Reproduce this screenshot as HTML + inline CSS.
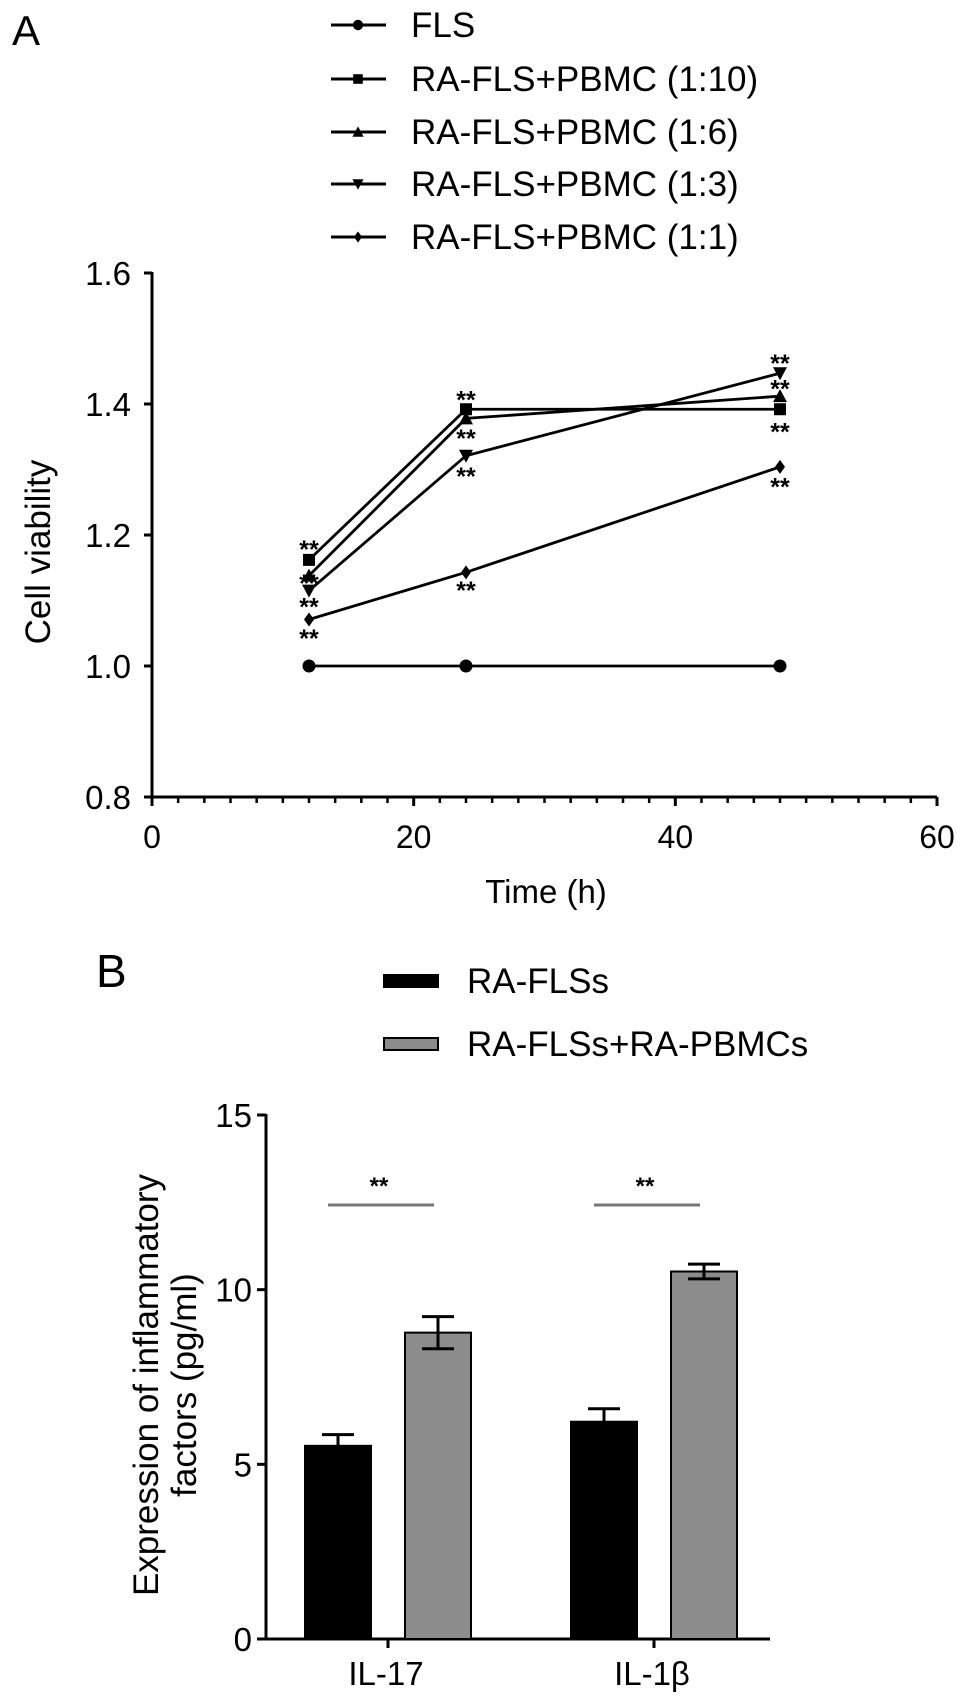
<!DOCTYPE html>
<html><head><meta charset="utf-8"><style>
html,body{margin:0;padding:0;background:#fff;}
svg{display:block;font-family:"Liberation Sans",sans-serif;}
</style></head><body>
<svg id="fig" width="969" height="1704" viewBox="0 0 969 1704" xmlns="http://www.w3.org/2000/svg">
<text x="12" y="45" font-size="42">A</text>
<text x="96" y="987" font-size="46">B</text>
<g id="legendA"></g>
<g id="chartA"></g>
<g id="legendB"></g>
<g id="chartB"></g>
</svg>
<script>
// ---- Panel A data ----
const timesA = [12, 24, 48];
const seriesNamesA = ["FLS","RA-FLS+PBMC (1:10)","RA-FLS+PBMC (1:6)","RA-FLS+PBMC (1:3)","RA-FLS+PBMC (1:1)"];
const seriesMarkersA = ["circle","square","triangle","down","diamond"];
const flsValues = [1.0, 1.0, 1.0];
const ratio110Values = [1.162, 1.392, 1.392];
const ratio16Values = [1.138, 1.378, 1.412];
const ratio13Values = [1.115, 1.321, 1.447];
const ratio11Values = [1.071, 1.143, 1.304];
const yTicksA = [0.8, 1.0, 1.2, 1.4, 1.6];
const yTickLabelsA = ["0.8","1.0","1.2","1.4","1.6"];
const xTicksA = [0, 20, 40, 60];
// star annotation positions (time, value)
const starTimesA = [12,12,12,12,24,24,24,24,48,48,48,48];
const starValuesA = [1.185,1.133,1.097,1.049,1.413,1.354,1.296,1.122,1.469,1.43,1.364,1.28];

// ---- Panel B data ----
const categoriesB = ["IL-17","IL-1β"];
const groupNamesB = ["RA-FLSs","RA-FLSs+RA-PBMCs"];
const raFlsValues = [5.53, 6.22];
const raFlsErr = [0.32, 0.37];
const coValues = [8.77, 10.52];
const coErr = [0.46, 0.21];
const yTicksB = [0, 5, 10, 15];

const NS="http://www.w3.org/2000/svg";
function mk(tag, attrs, parent){const e=document.createElementNS(NS,tag);for(const k in attrs)e.setAttribute(k,attrs[k]);parent.appendChild(e);return e;}

const xA = t => 152 + (t-0)*(937-152)/60;
const yA = v => 797 - (v-0.8)*(797-273)/0.8;

const gA = document.getElementById('chartA');
let ax = mk('line',{x1:152,y1:797,x2:937,y2:797,stroke:'#000','stroke-width':3},gA);


ax = mk('line',{x1:152,y1:797,x2:152,y2:272,stroke:'#000','stroke-width':3},gA);


for(let t=0;t<=60;t+=2){
  const major = xTicksA.includes(t);
  const tk = mk('line',{x1:xA(t),y1:797,x2:xA(t),y2:797+(major?9:6),stroke:'#000','stroke-width':major?3:2.5},gA);
  
  
}
xTicksA.forEach(t=>{
  const tx = mk('text',{x:xA(t),y:848,'font-size':32,'text-anchor':'middle'},gA);
  tx.textContent=String(t);
  
  
});
yTicksA.forEach((v,i)=>{
  const tk = mk('line',{x1:144,y1:yA(v),x2:152,y2:yA(v),stroke:'#000','stroke-width':3},gA);
  
  
  const tx = mk('text',{x:131,y:yA(v)+12,'font-size':33,'text-anchor':'end'},gA);
  tx.textContent=yTickLabelsA[i];
  
  
});
let t1 = mk('text',{x:546,y:903,'font-size':33,'text-anchor':'middle'},gA);
t1.textContent='Time (h)';


t1 = mk('text',{x:0,y:0,'font-size':35,'text-anchor':'middle',transform:'translate(50,552) rotate(-90)'},gA);
t1.textContent='Cell viability';



function marker(type,cx,cy,parent,s){
  s = s || 1;
  let e;
  if(type==='circle') e=mk('circle',{cx,cy,r:6.5*s,fill:'#000'},parent);
  else if(type==='square') e=mk('rect',{x:cx-6*s,y:cy-6*s,width:12*s,height:12*s,fill:'#000'},parent);
  else if(type==='triangle') e=mk('polygon',{points:`${cx},${cy-7*s} ${cx-7*s},${cy+6*s} ${cx+7*s},${cy+6*s}`,fill:'#000'},parent);
  else if(type==='down') e=mk('polygon',{points:`${cx},${cy+7*s} ${cx-7*s},${cy-6*s} ${cx+7*s},${cy-6*s}`,fill:'#000'},parent);
  else e=mk('polygon',{points:`${cx},${cy-7*s} ${cx-5*s},${cy} ${cx},${cy+7*s} ${cx+5*s},${cy}`,fill:'#000'},parent);
  return e;
}
const allSeries=[flsValues,ratio110Values,ratio16Values,ratio13Values,ratio11Values];
allSeries.forEach((vals,si)=>{
  const g = mk('g',{},gA);
  
  
  const pts = vals.map((v,i)=>xA(timesA[i])+','+yA(v)).join(' ');
  const pl = mk('polyline',{points:pts,fill:'none',stroke:'#000','stroke-width':2.8},g);
  
  
  vals.forEach((v,i)=>{
    const m = marker(seriesMarkersA[si],xA(timesA[i]),yA(v),g);
    
    
  });
});
starTimesA.forEach((t,i)=>{
  const s = mk('text',{x:xA(t),y:yA(starValuesA[i])+13,'font-size':25,'font-weight':'bold','text-anchor':'middle'},gA);
  s.textContent='**';
  
  
});

const lgA = document.getElementById('legendA');
const legYA=[25,79,132,184,237];
seriesNamesA.forEach((n,i)=>{
  const g = mk('g',{},lgA);
  
  
  mk('line',{x1:331,y1:legYA[i],x2:386,y2:legYA[i],stroke:'#000','stroke-width':3},g);
  marker(seriesMarkersA[i],358,legYA[i],g,0.8);
  const tx = mk('text',{x:411,y:legYA[i]+12,'font-size':35},g);
  tx.textContent=n;
});

// ---- Panel B ----
const yB = v => 1639 - v*(1639-1115)/15;
const catCenters=[388,654];
const xB = (ci,gi) => catCenters[ci] + (gi===0?-50:50);
const gB = document.getElementById('chartB');
ax = mk('line',{x1:266,y1:1639,x2:770,y2:1639,stroke:'#000','stroke-width':3},gB);


ax = mk('line',{x1:266,y1:1639,x2:266,y2:1114,stroke:'#000','stroke-width':3},gB);


yTicksB.forEach(v=>{
  const tk = mk('line',{x1:257,y1:yB(v),x2:266,y2:yB(v),stroke:'#000','stroke-width':3},gB);
  
  
  const tx = mk('text',{x:252,y:yB(v)+12,'font-size':33,'text-anchor':'end'},gB);
  tx.textContent=String(v);
  
  
});
categoriesB.forEach((c,ci)=>{
  const tk = mk('line',{x1:catCenters[ci],y1:1639,x2:catCenters[ci],y2:1648,stroke:'#000','stroke-width':3},gB);
  
  
  const tx = mk('text',{x:catCenters[ci]-2,y:1685,'font-size':33,'text-anchor':'middle'},gB);
  tx.textContent=c;
  
  
});
const groups=[[raFlsValues,raFlsErr,'#000'],[coValues,coErr,'#8c8c8c']];
groups.forEach((gr,gi)=>{
  gr[0].forEach((v,ci)=>{
    const cx = xB(ci,gi);
    const b = mk('rect',{x:cx-33,y:yB(v),width:66,height:1639-yB(v),fill:gr[2],stroke:'#000','stroke-width':2},gB);
    
    
    const e = gr[1][ci];
    const eg = mk('g',{stroke:'#000','stroke-width':3},gB);
    
    
    const lo = gi===0 ? v : v-e;
    mk('line',{x1:cx,y1:yB(v+e),x2:cx,y2:yB(lo)},eg);
    mk('line',{x1:cx-16,y1:yB(v+e),x2:cx+16,y2:yB(v+e)},eg);
    if(gi===1) mk('line',{x1:cx-16,y1:yB(v-e),x2:cx+16,y2:yB(v-e)},eg);
  });
});
catCenters.forEach((c,ci)=>{
  const l = mk('line',{x1:c-60,y1:1205,x2:c+46,y2:1205,stroke:'#777','stroke-width':3},gB);
  
  
  const s = mk('text',{x:c-9,y:1194,'font-size':24,'font-weight':'bold','text-anchor':'middle'},gB);
  s.textContent='**';
  
  
});
t1 = mk('text',{x:0,y:0,'font-size':35,'text-anchor':'middle',transform:'translate(158,1385) rotate(-90)'},gB);
t1.textContent='Expression of inflammatory';


t1 = mk('text',{x:0,y:0,'font-size':35,'text-anchor':'middle',transform:'translate(196,1385) rotate(-90)'},gB);
t1.textContent='factors (pg/ml)';



const lgB = document.getElementById('legendB');
const legYB=[981,1044];
const legColB=['#000','#8c8c8c'];
groupNamesB.forEach((n,i)=>{
  const g = mk('g',{},lgB);
  
  
  mk('rect',{x:384,y:legYB[i]-6,width:54,height:12,fill:legColB[i],stroke:'#000','stroke-width':2},g);
  const tx = mk('text',{x:467,y:legYB[i]+12,'font-size':35},g);
  tx.textContent=n;
});
</script>
</body></html>
